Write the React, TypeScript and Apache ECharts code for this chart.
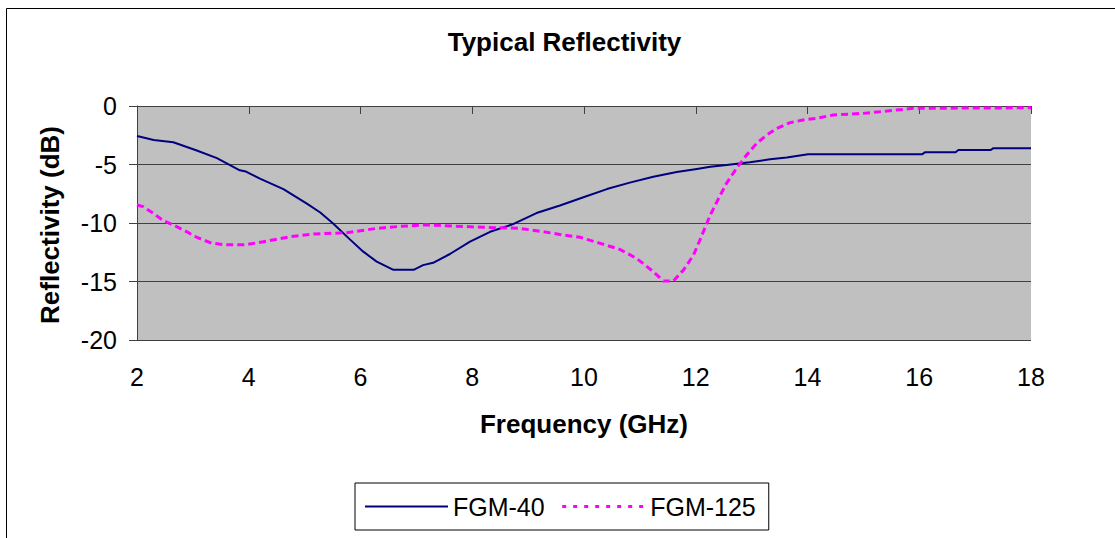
import React, { useEffect, useRef } from "react";
import * as echarts from "echarts";

const FONT = "'Liberation Sans', Arial, sans-serif";

const chartTitle = "Typical Reflectivity";
const xAxisTitle = "Frequency (GHz)";
const yAxisTitle = "Reflectivity (dB)";
const seriesNames = ["FGM-40", "FGM-125"];

const freq40 = [2.0, 2.3, 2.65, 3.07, 3.43, 3.84, 3.95, 4.2, 4.62, 5.04, 5.28, 5.51, 5.81, 6.05, 6.29, 6.59, 6.95, 7.12, 7.3, 7.6, 7.96, 8.32, 8.73, 9.15, 9.57, 9.99, 10.41, 10.82, 11.24, 11.66, 12.02, 12.26, 12.55, 12.97, 13.33, 13.63, 14.01, 16.05, 16.1, 16.65, 16.7, 17.28, 17.32, 18.0];
const refl40 = [-2.56, -2.9, -3.1, -3.8, -4.45, -5.5, -5.6, -6.2, -7.1, -8.35, -9.1, -10.05, -11.4, -12.45, -13.3, -14.0, -14.0, -13.6, -13.4, -12.65, -11.6, -10.75, -10.1, -9.15, -8.5, -7.8, -7.1, -6.55, -6.05, -5.65, -5.38, -5.2, -5.04, -4.8, -4.56, -4.4, -4.13, -4.13, -3.96, -3.96, -3.76, -3.76, -3.62, -3.62];

const freq125 = [2.0, 2.11, 2.29, 2.47, 2.65, 2.83, 3.07, 3.31, 3.54, 3.96, 4.26, 4.74, 5.16, 5.75, 6.29, 6.65, 7.18, 7.38, 8.2, 8.85, 9.27, 9.63, 9.93, 10.29, 10.64, 10.94, 11.24, 11.42, 11.6, 11.78, 11.96, 12.1, 12.26, 12.41, 12.55, 12.73, 12.91, 13.09, 13.27, 13.45, 13.69, 13.92, 14.16, 14.46, 15.0, 15.42, 15.89, 18.0];
const refl125 = [-8.46, -8.6, -9.17, -9.8, -10.17, -10.6, -11.22, -11.68, -11.85, -11.85, -11.6, -11.17, -10.94, -10.83, -10.46, -10.31, -10.15, -10.2, -10.37, -10.46, -10.74, -11.03, -11.22, -11.74, -12.25, -13.02, -14.16, -14.96, -14.96, -14.02, -12.74, -11.17, -9.32, -7.89, -6.61, -5.33, -4.19, -3.19, -2.48, -1.91, -1.42, -1.2, -1.05, -0.77, -0.63, -0.43, -0.2, -0.15];

const xMin = 2;
const xMax = 18;
const xStep = 2;
const yMin = -20;
const yMax = 0;
const yStep = 5;

export default function App() {
  const ref = useRef<HTMLDivElement>(null);

  useEffect(() => {
    if (!ref.current) return;
    const chart = echarts.init(ref.current, null, { renderer: "svg" });
    const pairs = (xs: number[], ys: number[]) => xs.map((x, i) => [x, ys[i]]);
    const axisColor = "#404040";

    chart.setOption({
      animation: false,
      backgroundColor: "#ffffff",
      textStyle: { fontFamily: FONT },
      grid: {
        left: 137,
        top: 106,
        right: 84,
        bottom: 198,
        show: true,
        backgroundColor: "#C0C0C0",
        borderWidth: 0,
        containLabel: false,
      },
      xAxis: [
        {
          type: "value",
          min: xMin,
          max: xMax,
          interval: xStep,
          position: "bottom",
          axisLine: { show: false },
          axisTick: { show: false },
          splitLine: { show: false },
          axisLabel: { fontSize: 25, color: "#000", margin: 24, fontFamily: FONT },
        },
        {
          type: "value",
          min: xMin,
          max: xMax,
          interval: xStep,
          position: "top",
          axisLine: { show: true, lineStyle: { color: axisColor, width: 1 } },
          axisTick: { show: true, inside: true, length: 8, lineStyle: { color: axisColor, width: 1 } },
          splitLine: { show: false },
          axisLabel: { show: false },
        },
      ],
      yAxis: {
        type: "value",
        min: yMin,
        max: yMax,
        interval: yStep,
        axisLine: { show: true, lineStyle: { color: axisColor, width: 1 } },
        axisTick: { show: true, length: 8, lineStyle: { color: axisColor, width: 1 } },
        splitLine: { show: true, lineStyle: { color: axisColor, width: 1 } },
        axisLabel: { fontSize: 25, color: "#000", margin: 20, fontFamily: FONT },
      },
      legend: {
        left: 355,
        top: 483,
        padding: [11, 13, 11, 9],
        itemWidth: 83,
        itemHeight: 14,
        itemGap: 16,
        borderColor: "#000",
        borderWidth: 1,
        backgroundColor: "#fff",
        itemStyle: { color: "rgba(0,0,0,0)", borderWidth: 0, opacity: 0 },
        textStyle: { fontSize: 25, color: "#000", fontFamily: FONT },
        data: [
          { name: seriesNames[0], lineStyle: { color: "#000080", width: 2, type: "solid" } },
          { name: seriesNames[1], lineStyle: { color: "#FF00FF", width: 3, type: [4, 7] } },
        ],
      },
      graphic: [
        {
          type: "rect",
          silent: true,
          shape: { x: 6.5, y: 8.5, width: 1300, height: 700 },
          style: { fill: "none", stroke: "#000", lineWidth: 1 },
        },
        {
          type: "text",
          x: 564.5,
          y: 42,
          style: {
            text: chartTitle,
            font: `bold 26px ${FONT}`,
            fill: "#000",
            textAlign: "center",
            textVerticalAlign: "middle",
          },
        },
        {
          type: "text",
          x: 584,
          y: 424,
          style: {
            text: xAxisTitle,
            font: `bold 26px ${FONT}`,
            fill: "#000",
            textAlign: "center",
            textVerticalAlign: "middle",
          },
        },
        {
          type: "text",
          x: 49.5,
          y: 225,
          rotation: Math.PI / 2,
          style: {
            text: yAxisTitle,
            font: `bold 26px ${FONT}`,
            fill: "#000",
            textAlign: "center",
            textVerticalAlign: "middle",
          },
        },
      ],
      series: [
        {
          name: seriesNames[0],
          type: "line",
          xAxisIndex: 0,
          data: pairs(freq40, refl40),
          symbol: "none",
          showSymbol: false,
          lineStyle: { color: "#000080", width: 2 },
          itemStyle: { color: "#000080" },
        },
        {
          name: seriesNames[1],
          type: "line",
          xAxisIndex: 0,
          data: pairs(freq125, refl125),
          symbol: "none",
          showSymbol: false,
          lineStyle: { color: "#FF00FF", width: 3, type: [7, 4] },
          itemStyle: { color: "#FF00FF" },
        },
      ],
    });

    return () => chart.dispose();
  }, []);

  return (
    <div
      ref={ref}
      style={{ position: "absolute", left: 0, top: 0, width: 1115, height: 538 }}
    />
  );
}
